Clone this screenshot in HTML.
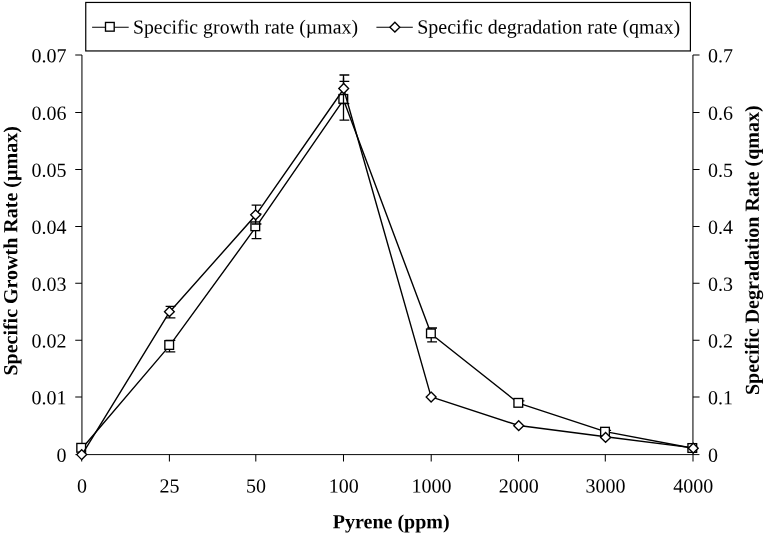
<!DOCTYPE html>
<html><head><meta charset="utf-8"><title>Pyrene chart</title>
<style>
html,body{margin:0;padding:0;background:#fff;}
body{width:765px;height:533px;overflow:hidden;}
svg{display:block;font-family:"Liberation Serif","Times New Roman",serif;fill:#000;}
.ax{stroke:#000;stroke-width:1.03;fill:none;}
.xa{stroke:#000;stroke-width:0.97;fill:none;}
.eb{stroke:#000;stroke-width:1.3;fill:none;}
.ln{stroke:#000;stroke-width:1.4;fill:none;stroke-linejoin:round;}
.mk{stroke:#000;stroke-width:1.35;fill:#fff;}
.t{font-size:20px;}
.b{font-size:20px;font-weight:bold;}
</style></head><body>
<svg width="765" height="533" viewBox="0 0 765 533">
<rect x="0" y="0" width="765" height="533" fill="#fff" stroke="none"/>
<path class="ax" d="M81.94 54.95V454.6M692.94 54.95V454.6"/>
<path class="xa" d="M75.44 454.6H699.44"/>
<path class="ax" d="M75.24 397.00H81.94M692.94 397.00H699.54M75.24 340.20H81.94M692.94 340.20H699.54M75.24 283.35H81.94M692.94 283.35H699.54M75.24 226.50H81.94M692.94 226.50H699.54M75.24 169.50H81.94M692.94 169.50H699.54M75.24 112.50H81.94M692.94 112.50H699.54M75.24 54.95H81.94M692.94 54.95H699.54M81.7 454.6V461.5M169.4 454.6V461.5M255.8 454.6V461.5M343.5 454.6V461.5M431.2 454.6V461.5M518.5 454.6V461.5M605.3 454.6V461.5M693.0 454.6V461.5"/>
<text class="t" x="66.6" y="461.7" text-anchor="end" transform="rotate(0.03 66.6 461.7)">0</text>
<text class="t" x="708" y="461.7" transform="rotate(0.03 708 461.7)">0</text>
<text class="t" x="66.6" y="404.3" text-anchor="end" transform="rotate(0.03 66.6 404.3)">0.01</text>
<text class="t" x="708" y="404.3" transform="rotate(0.03 708 404.3)">0.1</text>
<text class="t" x="66.6" y="347.5" text-anchor="end" transform="rotate(0.03 66.6 347.5)">0.02</text>
<text class="t" x="708" y="347.5" transform="rotate(0.03 708 347.5)">0.2</text>
<text class="t" x="66.6" y="290.7" text-anchor="end" transform="rotate(0.03 66.6 290.7)">0.03</text>
<text class="t" x="708" y="290.7" transform="rotate(0.03 708 290.7)">0.3</text>
<text class="t" x="66.6" y="233.8" text-anchor="end" transform="rotate(0.03 66.6 233.8)">0.04</text>
<text class="t" x="708" y="233.8" transform="rotate(0.03 708 233.8)">0.4</text>
<text class="t" x="66.6" y="176.8" text-anchor="end" transform="rotate(0.03 66.6 176.8)">0.05</text>
<text class="t" x="708" y="176.8" transform="rotate(0.03 708 176.8)">0.5</text>
<text class="t" x="66.6" y="119.8" text-anchor="end" transform="rotate(0.03 66.6 119.8)">0.06</text>
<text class="t" x="708" y="119.8" transform="rotate(0.03 708 119.8)">0.6</text>
<text class="t" x="66.6" y="62.2" text-anchor="end" transform="rotate(0.03 66.6 62.2)">0.07</text>
<text class="t" x="708" y="62.2" transform="rotate(0.03 708 62.2)">0.7</text>
<text class="t" x="81.9" y="492.5" text-anchor="middle" transform="rotate(0.03 81.9 492.5)">0</text>
<text class="t" x="169.6" y="492.5" text-anchor="middle" transform="rotate(0.03 169.6 492.5)">25</text>
<text class="t" x="256.0" y="492.5" text-anchor="middle" transform="rotate(0.03 256.0 492.5)">50</text>
<text class="t" x="343.7" y="492.5" text-anchor="middle" transform="rotate(0.03 343.7 492.5)">100</text>
<text class="t" x="431.4" y="492.5" text-anchor="middle" transform="rotate(0.03 431.4 492.5)">1000</text>
<text class="t" x="518.7" y="492.5" text-anchor="middle" transform="rotate(0.03 518.7 492.5)">2000</text>
<text class="t" x="605.5" y="492.5" text-anchor="middle" transform="rotate(0.03 605.5 492.5)">3000</text>
<text class="t" x="693.2" y="492.5" text-anchor="middle" transform="rotate(0.03 693.2 492.5)">4000</text>
<text class="b" x="391.2" y="528.3" text-anchor="middle" transform="rotate(0.03 391.2 528.3)">Pyrene (ppm)</text>
<text class="b" style="font-size:20px" transform="translate(17.3,250.9) rotate(-90.03)" text-anchor="middle">Specific Growth Rate (µmax)</text>
<text class="b" style="font-size:20.05px" transform="translate(758.8,250.2) rotate(-90.03)" text-anchor="middle">Specific Degradation Rate (qmax)</text>
<path class="ln" d="M81.7 448.7L169.4 345.9L255.8 227.2L343.5 99.8L431.2 334.0L518.5 403.2L605.3 431.6L693.0 448.2"/>
<path class="eb" d="M169.5 340.5V351.8M165.5 351.8H175.3M165.5 340.3H175.3M255.6 214V238.6M251.6 238.6H261.4M251.6 214.0H261.4M343.5 77.5V120.2M339.5 120.2H349.3M431.2 328V341.8M427.2 341.8H437.0M427.2 328.0H437.0M514.6 400.9H524.4M601.3 430.4H611.1"/>
<rect class="mk" x="76.85" y="443.45" width="8.7" height="8.7"/>
<rect class="mk" x="164.85" y="340.65" width="8.7" height="8.7"/>
<rect class="mk" x="250.95" y="221.95" width="8.7" height="8.7"/>
<rect class="mk" x="338.95" y="94.55" width="8.7" height="8.7"/>
<rect class="mk" x="426.55" y="329.05" width="8.7" height="8.7"/>
<rect class="mk" x="513.95" y="398.50" width="8.7" height="8.7"/>
<rect class="mk" x="600.65" y="427.35" width="8.7" height="8.7"/>
<rect class="mk" x="687.95" y="443.65" width="8.7" height="8.7"/>
<path class="ln" d="M81.7 455.1L169.4 312.2L255.6 215.3L343.7 89.0L431.1 396.9L518.7 425.5L605.6 436.8L693.3 447.9"/>
<path class="eb" d="M169.6 306.3V317.9M165.6 306.3H175.4M165.6 317.9H175.4M255.6 205.1V224M251.6 205.1H261.4M251.6 224.0H261.4M343.5 74.95V103.5M339.5 75.0H349.3M339.5 81.4H349.3M339.5 103.6H349.3"/>
<path class="mk" d="M81.7 449.7L86.7 454.6L81.7 459.6L76.8 454.6Z"/>
<path class="mk" d="M169.4 306.8L174.3 311.7L169.4 316.6L164.5 311.7Z"/>
<path class="mk" d="M255.6 209.9L260.6 214.8L255.6 219.8L250.7 214.8Z"/>
<path class="mk" d="M343.7 83.5L348.6 88.5L343.7 93.5L338.8 88.5Z"/>
<path class="mk" d="M431.1 392.1L436.1 397.1L431.1 402.0L426.2 397.1Z"/>
<path class="mk" d="M518.7 420.8L523.7 425.7L518.7 430.6L513.8 425.7Z"/>
<path class="mk" d="M605.6 432.4L610.6 437.4L605.6 442.3L600.6 437.4Z"/>
<path class="mk" d="M693.3 443.2L698.2 448.2L693.3 453.1L688.3 448.2Z"/>
<rect x="85.75" y="2.45" width="604.65" height="48.5" fill="#fff" stroke="#000" stroke-width="1.2"/>
<path class="ln" style="stroke-width:1.2" d="M92.1 27.25H128.7M376.4 27.25H412.8"/>
<rect class="mk" x="105.50" y="22.45" width="8.7" height="8.7"/>
<path class="mk" d="M394.9 22.2L399.8 27.2L394.9 32.1L389.9 27.2Z"/>
<text class="t" style="font-size:19.75px" x="132.9" y="33.5" textLength="225.2" transform="rotate(0.03 132.9 33.5)">Specific growth rate (µmax)</text>
<text class="t" x="417.2" y="33.5" textLength="263" transform="rotate(0.03 417.2 33.5)">Specific degradation rate (qmax)</text>
</svg></body></html>
